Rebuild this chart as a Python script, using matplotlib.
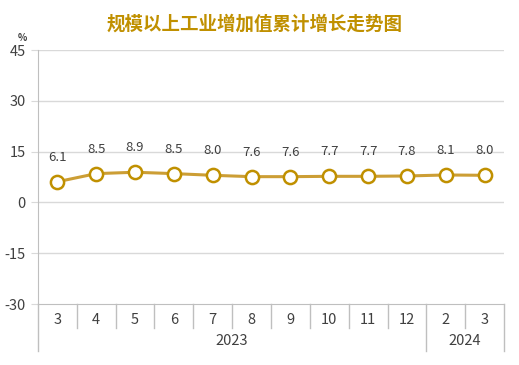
import matplotlib.pyplot as plt
import matplotlib.transforms as mtransforms

plt.rcParams['font.family'] = ['Noto Sans CJK SC', 'DejaVu Sans']

months = ['3', '4', '5', '6', '7', '8', '9', '10', '11', '12', '2', '3']
years = ['2023', '2024']
year_spans = [(0, 9), (10, 11)]
growth = [6.1, 8.5, 8.9, 8.5, 8.0, 7.6, 7.6, 7.7, 7.7, 7.8, 8.1, 8.0]
yticks = [-30, -15, 0, 15, 30, 45]

gold = '#C09000'
line_col = '#CC9E35'
grid_col = '#D9D9D9'
text_col = '#404040'

fig = plt.figure(figsize=(5.19, 3.65), dpi=100)
ax = fig.add_axes([38 / 519, 61 / 365, 466 / 519, 254 / 365])

x = list(range(len(growth)))
ax.plot(x, growth, color=line_col, lw=2.2, zorder=3)
ax.plot(x, growth, 'o', ms=9.5, mfc='white', mec=gold, mew=1.8, zorder=4)
for xi, v in zip(x, growth):
    ax.annotate(f'{v:.1f}', (xi, v), xytext=(0, 13), textcoords='offset points',
                ha='center', va='bottom', fontsize=9.5, color=text_col)

ax.set_xlim(-0.5, len(growth) - 0.5)
ax.set_ylim(-30, 45)
ax.set_yticks(yticks)
ax.set_yticklabels([str(t) for t in yticks], fontsize=10.5, color=text_col)
ax.tick_params(axis='y', length=5, color=grid_col, pad=4)
ax.set_xticks([])
for t in yticks[1:]:
    ax.axhline(t, color=grid_col, lw=1, zorder=1)
for s in ['top', 'right']:
    ax.spines[s].set_visible(False)
ax.spines['left'].set_color('#BFBFBF')
ax.spines['bottom'].set_color('#BFBFBF')

# category axis below the plot
trans = mtransforms.blended_transform_factory(ax.transData, ax.transAxes)
for i, m in enumerate(months):
    ax.text(i, -0.063, m, transform=trans, ha='center', va='center',
            fontsize=10.5, color=text_col)
starts = [s for s, e in year_spans]
for k in range(len(months) + 1):
    bottom = -0.185 if (k in starts or k == len(months)) else -0.095
    ax.plot([k - 0.5, k - 0.5], [0, bottom], transform=trans, color='#BFBFBF',
            lw=1, clip_on=False)
for yr, (s, e) in zip(years, year_spans):
    ax.text((s + e) / 2, -0.145, yr, transform=trans, ha='center', va='center',
            fontsize=10.5, color=text_col)

fig.text(255 / 519, 1 - 24 / 365, '规模以上工业增加值累计增长走势图', ha='center', va='center',
         fontsize=13.3, fontweight='bold', color=gold)
fig.text(22 / 519, 1 - 38 / 365, '%', ha='center', va='center', fontsize=7,
         fontweight='bold', color=text_col)

fig.savefig('out.png', dpi=100, facecolor='white')
